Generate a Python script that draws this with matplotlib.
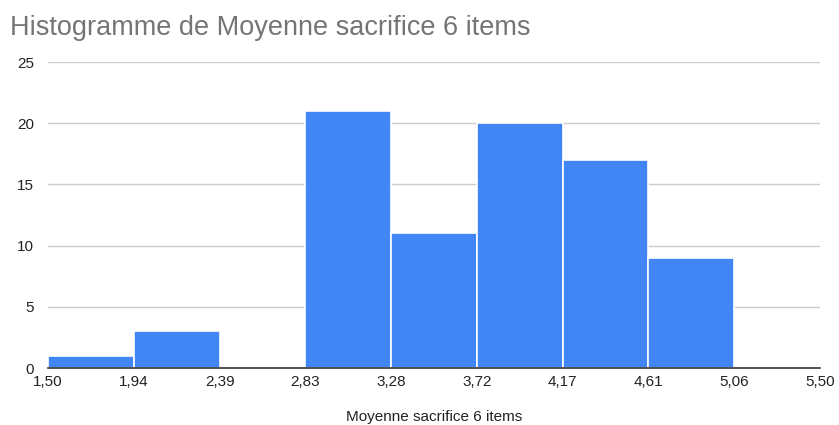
import numpy as np
import matplotlib.pyplot as plt

plt.rcParams['font.family'] = ['Liberation Sans', 'DejaVu Sans']

# Histogram data
bin_edges = [1.50, 1.944, 2.389, 2.833, 3.278, 3.722, 4.167, 4.611, 5.056, 5.50]
tick_labels = ['1,50', '1,94', '2,39', '2,83', '3,28', '3,72', '4,17', '4,61', '5,06', '5,50']
counts = [1, 3, 0, 21, 11, 20, 17, 9, 0]

fig = plt.figure(figsize=(8.39, 4.25), dpi=100)
ax = fig.add_axes([48 / 839, 57 / 425, 772 / 839, 306 / 425])

edges = np.array(bin_edges)
widths = np.diff(edges)
ax.bar(edges[:-1], counts, width=widths, align='edge', color='#4285F4',
       edgecolor='white', linewidth=1.2, zorder=3)

ax.set_xlim(edges[0], edges[-1])
ax.set_ylim(0, 25)
ax.set_yticks([0, 5, 10, 15, 20, 25])
ax.set_xticks(edges)
ax.set_xticklabels(tick_labels)

ax.grid(axis='y', color='#cccccc', linewidth=1, zorder=0)
for s in ['top', 'right', 'left']:
    ax.spines[s].set_visible(False)
ax.spines['bottom'].set_color('#333333')
ax.spines['bottom'].set_linewidth(1.2)
ax.spines['bottom'].set_zorder(4)

ax.tick_params(axis='both', length=0, labelsize=11, labelcolor='#222222')
ax.tick_params(axis='y', pad=10)
ax.tick_params(axis='x', pad=5)

ax.set_xlabel('Moyenne sacrifice 6 items', fontsize=11, color='#222222', labelpad=15)
fig.text(10 / 839, 1 - 28 / 425, 'Histogramme de Moyenne sacrifice 6 items',
         fontsize=19.5, color='#757575', va='center', ha='left')

plt.savefig('out.png', dpi=100)
plt.close()
